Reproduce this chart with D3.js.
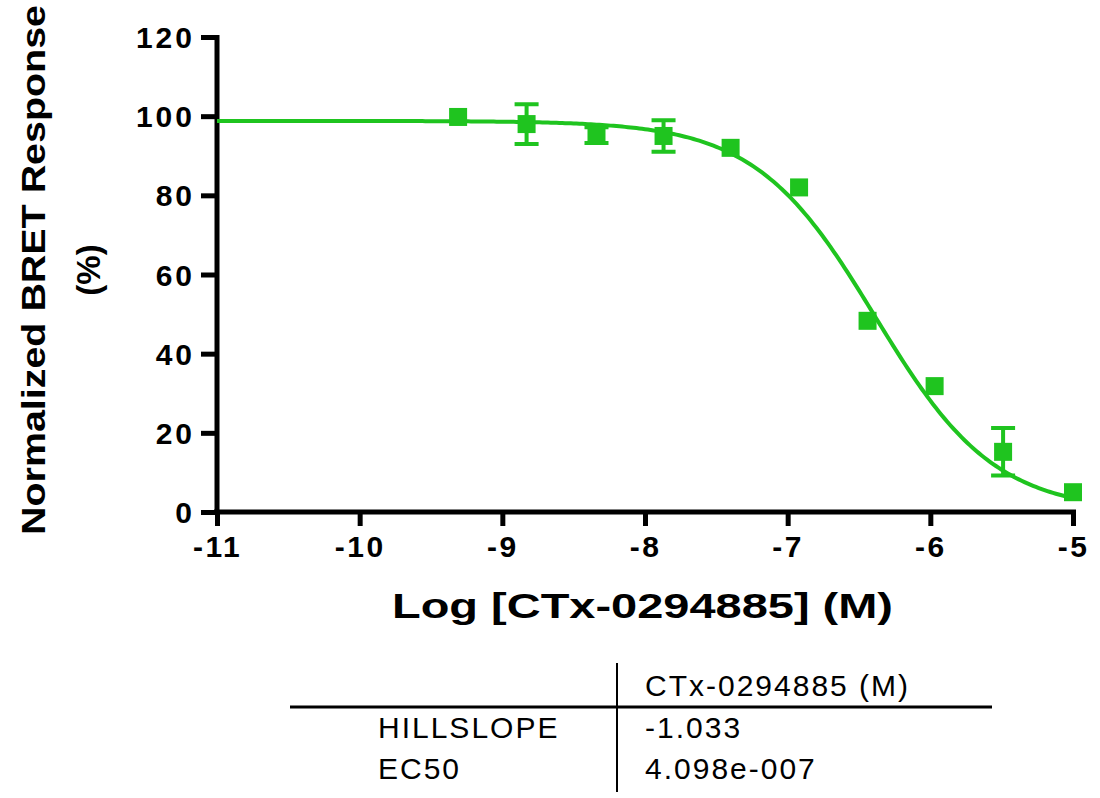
<!DOCTYPE html><html><head><meta charset="utf-8"><script src="https://cdn.jsdelivr.net/npm/d3@7"></script>
<style>body{margin:0;background:#fff}text{font-family:"Liberation Sans",Arial,sans-serif}</style></head><body>
<svg id="c" width="1100" height="798"></svg>
<script>
const logConc=[-9.31,-8.83,-8.34,-7.87,-7.40,-6.92,-6.44,-5.97,-5.49,-5.0];
const response=[99.8,98,95.2,95,92,82,48.3,31.8,15.2,5];
const errors=[0,5,2,4,0,0,0,0,6,0];
const xTicks=[-11,-10,-9,-8,-7,-6,-5];
const yTicks=[0,20,40,60,80,100,120];
const fit={top:98.8,bottom:0,logEC50:Math.log10(4.098e-7),hill:-1.033};
const tableRows=[["HILLSLOPE","-1.033"],["EC50","4.098e-007"]];
const tableHeader="CTx-0294885 (M)";
const green="#1fc41f";
const svg=d3.select("#c");
const x=d3.scaleLinear().domain([-11,-5]).range([217,1073]);
const y=d3.scaleLinear().domain([0,120]).range([512,37]);
const g=svg.append("g");
g.append("g").attr("transform","translate(0,512)").call(d3.axisBottom(x).tickValues(xTicks).tickSize(14).tickPadding(10).tickFormat(d3.format("d")))
 .call(a=>{a.select(".domain").attr("stroke-width",5).attr("d","M214,0H1076");a.selectAll("line").attr("stroke-width",5);a.selectAll("text").attr("font-size",30).attr("font-weight","bold").attr("letter-spacing",2.5).attr("fill","#000").text(d=>d<0?"-"+(-d):d);});
g.append("g").attr("transform","translate(217,0)").call(d3.axisLeft(y).tickValues(yTicks).tickSize(16).tickPadding(6))
 .call(a=>{a.select(".domain").attr("stroke-width",5).attr("d","M0,35V514");a.selectAll("line").attr("stroke-width",5);a.selectAll("text").attr("font-size",30).attr("font-weight","bold").attr("letter-spacing",3).attr("fill","#000").attr("dy","0.35em");});
const curve=d3.range(-11,-4.999,0.02).map(v=>[v,fit.bottom+(fit.top-fit.bottom)/(1+Math.pow(10,(fit.logEC50-v)*fit.hill))]);
g.append("path").datum(curve).attr("d",d3.line().x(d=>x(d[0])).y(d=>y(d[1]))).attr("fill","none").attr("stroke",green).attr("stroke-width",4);
logConc.forEach((c,i)=>{const e=errors[i];if(e>0){const cx=x(c);
 g.append("path").attr("d",`M${cx},${y(response[i]+e)}V${y(response[i]-e)}M${cx-12},${y(response[i]+e)}H${cx+12}M${cx-12},${y(response[i]-e)}H${cx+12}`).attr("stroke",green).attr("stroke-width",4).attr("fill","none");}
 g.append("rect").attr("x",x(c)-9).attr("y",y(response[i])-9).attr("width",18).attr("height",18).attr("fill",green);});
svg.append("text").attr("x",392).attr("y",618).attr("font-size",35).attr("font-weight","bold").attr("textLength",501).attr("lengthAdjust","spacingAndGlyphs").text("Log [CTx-0294885] (M)");
const yt=svg.append("text").attr("transform","translate(45,270) rotate(-90)").attr("text-anchor","middle").attr("font-size",33).attr("font-weight","bold");
yt.append("tspan").attr("x",0).attr("dy",0).attr("textLength",530).attr("lengthAdjust","spacingAndGlyphs").text("Normalized BRET Response");
yt.append("tspan").attr("x",0).attr("dy",55).text("(%)");
svg.append("line").attr("x1",617).attr("x2",617).attr("y1",663).attr("y2",792).attr("stroke","#000").attr("stroke-width",2);
svg.append("line").attr("x1",290).attr("x2",992).attr("y1",707).attr("y2",707).attr("stroke","#000").attr("stroke-width",3);
svg.append("text").attr("x",645).attr("y",696).attr("font-size",30).attr("letter-spacing",2).text(tableHeader);
tableRows.forEach((r,i)=>{svg.append("text").attr("x",378).attr("y",738+i*41).attr("font-size",30).attr("letter-spacing",2).text(r[0]);svg.append("text").attr("x",645).attr("y",738+i*41).attr("font-size",30).attr("letter-spacing",2).text(r[1]);});
</script></body></html>
